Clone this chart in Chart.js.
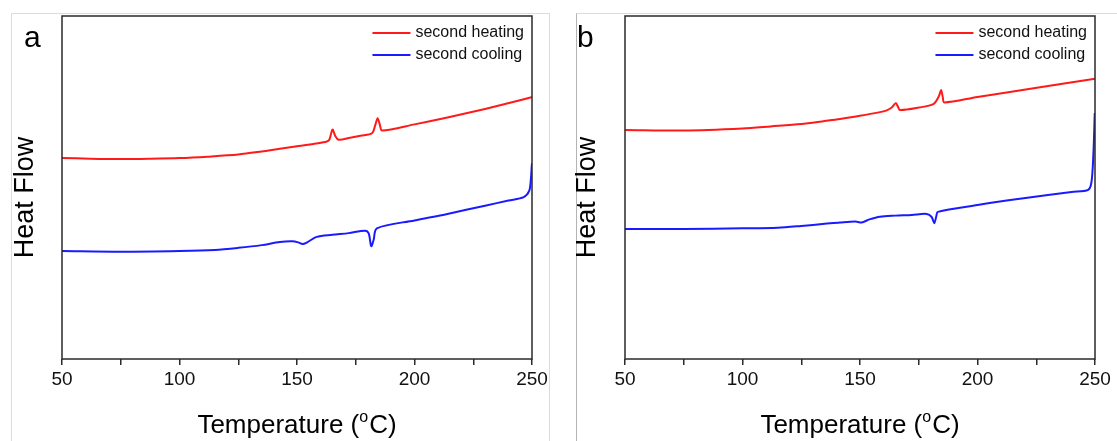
<!DOCTYPE html>
<html>
<head>
<meta charset="utf-8">
<script src="https://cdn.jsdelivr.net/npm/chart.js@4"></script>
<style>
  html, body { margin: 0; padding: 0; background: #fff; }
  body { width: 1117px; height: 441px; position: relative; overflow: hidden; }
  .frame { position: absolute; box-sizing: border-box; }
  #frameA { left: 11px; top: 13px; width: 539px; height: 440px; border: 1px solid #dcdcdc; border-bottom: none; }
  #frameB { left: 576px; top: 13px; width: 600px; height: 440px; border-top: 1px solid #dcdcdc; border-left: 1px solid #b4b4b4; }
  canvas { position: absolute; top: 0; }
  #chartA { left: 0; }
  #chartB { left: 560px; }
</style>
</head>
<body>
<div class="frame" id="frameA"></div>
<div class="frame" id="frameB"></div>
<canvas id="chartA" width="560" height="441"></canvas>
<canvas id="chartB" width="557" height="441"></canvas>
<script>
// DSC traces (temperature in degC, heat flow in arbitrary units)
const xTicks = [50, 100, 150, 200, 250];

// panel a
const aHeatT = [50, 62, 75, 87, 100, 112, 125, 135, 142.7, 150, 158, 162.7, 163.8, 165.1, 166.3, 167.7, 172.6, 177, 181.9, 183.3, 184.3, 185.3, 186.2, 200, 214, 230, 245.3, 250];
const aHeatY = [5.86, 5.84, 5.83, 5.84, 5.86, 5.90, 5.96, 6.05, 6.13, 6.20, 6.28, 6.34, 6.40, 6.69, 6.50, 6.39, 6.45, 6.51, 6.58, 6.82, 7.02, 6.82, 6.66, 6.84, 7.04, 7.29, 7.55, 7.64];
const aCoolT = [50, 75, 100, 115, 125, 135, 142.7, 148, 150.5, 152.4, 154.5, 158.4, 165, 172, 179, 180.5, 181.6, 182.6, 184, 200, 214, 230, 240, 246.5, 248.8, 249.5, 249.9, 250];
const aCoolY = [3.15, 3.13, 3.15, 3.18, 3.24, 3.32, 3.41, 3.43, 3.40, 3.35, 3.41, 3.56, 3.62, 3.67, 3.74, 3.66, 3.29, 3.47, 3.81, 4.04, 4.23, 4.47, 4.62, 4.72, 4.90, 5.22, 5.63, 5.71];

// panel b
const bHeatT = [50, 75, 100, 112, 125, 135, 141.5, 150, 158, 161.4, 163.5, 165.2, 166.2, 167, 175, 181.2, 183.5, 184.5, 185.2, 185.9, 200, 212.4, 230, 249.3, 250];
const bHeatY = [6.68, 6.66, 6.72, 6.78, 6.85, 6.94, 7.00, 7.09, 7.19, 7.25, 7.33, 7.46, 7.35, 7.26, 7.33, 7.43, 7.65, 7.84, 7.64, 7.48, 7.64, 7.77, 7.96, 8.16, 8.17];
const bCoolT = [50, 75, 100, 115, 125, 135, 141.5, 148, 150.7, 154, 158.5, 165, 172, 178.4, 180.5, 181.6, 182.5, 183.1, 200, 212.4, 230, 240, 247.1, 248.5, 249.3, 249.9];
const bCoolY = [3.79, 3.79, 3.81, 3.83, 3.88, 3.94, 3.98, 4.01, 3.98, 4.07, 4.15, 4.18, 4.20, 4.23, 4.14, 3.96, 4.17, 4.29, 4.49, 4.62, 4.78, 4.87, 4.93, 5.16, 5.95, 7.17];

const seriesNames = ['second heating', 'second cooling'];
const seriesColors = ['#ff1a1a', '#1a1aff'];
const FONT = '"Liberation Sans", Arial, sans-serif';

const toPoints = (xs, ys) => xs.map((x, i) => ({x: x, y: ys[i]}));

// frame, panel letter, axis titles and legend
const decorPlugin = {
    id: 'decor',
    afterDraw: (chart, args, opts) => {
        const {ctx, chartArea: a} = chart;
        ctx.save();
        ctx.strokeStyle = '#2a2a2a';
        ctx.lineWidth = 1.5;
        ctx.strokeRect(a.left, a.top, a.right - a.left, a.bottom - a.top);

        ctx.fillStyle = '#000';
        ctx.textBaseline = 'alphabetic';
        ctx.textAlign = 'left';
        ctx.font = '30px ' + FONT;
        ctx.fillText(opts.letter, opts.letterX, 47);

        // y title
        ctx.save();
        ctx.translate(opts.yTitleX, (a.top + a.bottom) / 2 + 10);
        ctx.rotate(-Math.PI / 2);
        ctx.textAlign = 'center';
        ctx.font = '27px ' + FONT;
        ctx.fillText('Heat Flow', 0, 0);
        ctx.restore();

        // x title with superscript o
        const p1 = 'Temperature (', p2 = 'C)';
        ctx.font = '26px ' + FONT;
        const w1 = ctx.measureText(p1).width;
        const w2 = ctx.measureText(p2).width;
        ctx.font = '16px ' + FONT;
        const ws = ctx.measureText('o').width + 1;
        let x = (a.left + a.right) / 2 - (w1 + ws + w2) / 2;
        const base = 433;
        ctx.font = '26px ' + FONT;
        ctx.fillText(p1, x, base);
        x += w1;
        ctx.font = '16px ' + FONT;
        ctx.fillText('o', x, base - 11);
        x += ws;
        ctx.font = '26px ' + FONT;
        ctx.fillText(p2, x, base);

        // legend, right aligned inside the box
        ctx.font = '16px ' + FONT;
        const tw = Math.max(...seriesNames.map(n => ctx.measureText(n).width));
        const tx = a.right - 8 - tw;
        chart.data.datasets.forEach((ds, i) => {
            const ly = 33 + i * 22;
            ctx.strokeStyle = ds.borderColor;
            ctx.lineWidth = 2;
            ctx.beginPath();
            ctx.moveTo(tx - 43, ly);
            ctx.lineTo(tx - 5, ly);
            ctx.stroke();
            ctx.fillStyle = '#111';
            ctx.textBaseline = 'middle';
            ctx.fillText(ds.label, tx, ly);
        });
        ctx.restore();
    }
};

function makeChart(id, heat, cool, pad, letter, letterX, yTitleX) {
    return new Chart(document.getElementById(id), {
        type: 'line',
        data: {
            datasets: [heat, cool].map((pts, i) => ({
                label: seriesNames[i],
                data: pts,
                borderColor: seriesColors[i],
                borderWidth: 2,
                pointRadius: 0,
                fill: false,
                tension: 0.3
            }))
        },
        options: {
            responsive: false,
            animation: false,
            events: [],
            layout: { padding: { left: pad.left, right: pad.right, top: 16, bottom: 0 } },
            plugins: {
                legend: { display: false },
                tooltip: { enabled: false },
                decor: { letter: letter, letterX: letterX, yTitleX: yTitleX }
            },
            scales: {
                x: {
                    type: 'linear',
                    min: 50,
                    max: 250,
                    afterFit: s => { s.height = 82; },
                    afterBuildTicks: s => {
                        s.ticks = [];
                        for (let v = 50; v <= 250; v += 25) s.ticks.push({value: v});
                    },
                    border: { display: false },
                    grid: {
                        drawOnChartArea: false,
                        drawTicks: true,
                        tickLength: 6,
                        color: '#2a2a2a',
                        lineWidth: 1.5
                    },
                    ticks: {
                        color: '#111',
                        padding: 3,
                        maxRotation: 0,
                        autoSkip: false,
                        font: { family: FONT, size: 19 },
                        callback: v => xTicks.includes(v) ? String(v) : ''
                    }
                },
                y: {
                    display: false,
                    min: 0,
                    max: 10
                }
            }
        },
        plugins: [decorPlugin]
    });
}

makeChart('chartA', toPoints(aHeatT, aHeatY), toPoints(aCoolT, aCoolY), {left: 62, right: 28}, 'a', 24, 33);
makeChart('chartB', toPoints(bHeatT, bHeatY), toPoints(bCoolT, bCoolY), {left: 65, right: 22}, 'b', 17, 35);
</script>
</body>
</html>
